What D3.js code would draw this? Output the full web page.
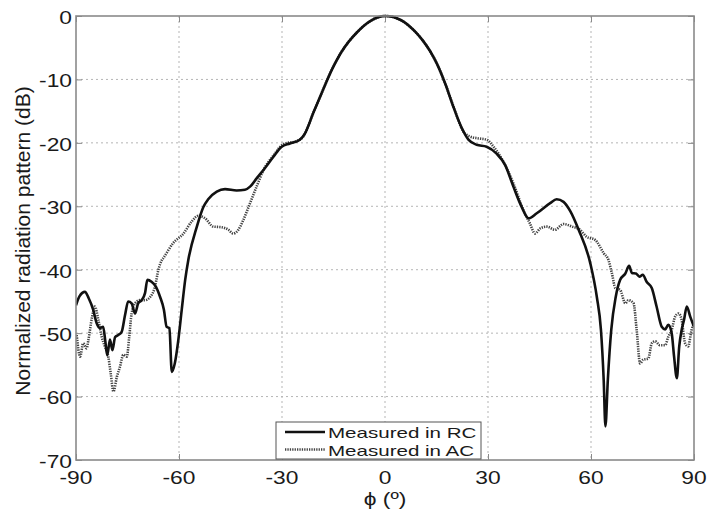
<!DOCTYPE html>
<html>
<head>
<meta charset="utf-8">
<script src="https://cdn.jsdelivr.net/npm/d3@7"></script>
<style>
  html, body { margin: 0; padding: 0; background: #fff; }
  svg { display: block; }
  text { font-family: "Liberation Sans", Arial, Helvetica, sans-serif; fill: #1a1a1a; }
</style>
</head>
<body>
<svg id="chart" width="710" height="513"></svg>
<script>
// ---------------- data ----------------
const xTicks = [-90, -60, -30, 0, 30, 60, 90];
const yTicks = [0, -10, -20, -30, -40, -50, -60, -70];
const xLabel = "\u03d5 (\u00ba)";
const yLabel = "Normalized radiation pattern (dB)";
const seriesNames = ["Measured in RC", "Measured in AC"];

// Measured in RC: [phi (deg), dB]
const measuredRC = [
  [-90,-45.6],[-89,-44.2],[-87.4,-43.5],[-86.3,-44.5],[-85,-46.3],[-84,-48.4],[-83,-49.2],[-82.1,-49],
  [-81.5,-51.1],[-80.9,-53.5],[-80.1,-51],[-79.4,-52.7],[-78.6,-50.6],[-77.7,-50.3],[-76.7,-49.8],
  [-75.7,-47.1],[-74.8,-45],[-73.8,-45.3],[-72.8,-46.9],[-71.9,-45.3],[-70.9,-44.8],[-69.9,-43.7],
  [-69.2,-41.6],[-68,-41.9],[-66.7,-42.7],[-65.5,-44.3],[-64.4,-46.3],[-63.6,-49],[-62.8,-49.2],
  [-62.1,-56.1],[-61.2,-54.7],[-60.2,-51.1],[-59.2,-46.3],[-58.2,-41.6],[-57.3,-38.5],[-54.8,-33.2],
  [-52.9,-30.1],[-51.5,-28.9],[-49,-27.7],[-46.6,-27.3],[-43.2,-27.5],[-40.8,-27.4],[-39.3,-26.9],
  [-37.4,-25.6],[-35,-24],[-32.5,-22.2],[-30.1,-20.6],[-27.7,-20.1],[-24.8,-19.5],[-23.3,-18.5],
  [-20.9,-15.3],[-18.1,-11.7],[-15.5,-8.5],[-12.6,-5.6],[-10.5,-4.0],[-8.2,-2.6],[-6.3,-1.6],
  [-4.3,-0.8],[-2,-0.2],[0,0],[2,-0.1],[3.6,-0.4],[5.4,-0.9],[7.3,-1.7],[9.2,-2.7],[11.2,-4.0],
  [13.2,-5.6],[15.1,-7.5],[17.5,-10.6],[19.9,-14.3],[22.4,-17.7],[24.3,-19.5],[26.7,-20.3],
  [29.6,-20.6],[32.5,-21.7],[35,-23.5],[37.4,-26.9],[39.8,-30.1],[41.8,-31.9],[44.2,-31.1],[48.1,-29.5],
  [50,-28.9],[52,-29.3],[54,-30.8],[56.4,-33.7],[59.8,-39],[61.7,-44.3],[62.9,-49.5],[63.7,-57.4],
  [64.2,-64.7],[64.9,-57.4],[65.9,-49.5],[67.2,-44.3],[68.5,-41.6],[70,-40.6],[71.1,-39.4],[71.9,-40.5],
  [73.1,-40.6],[74.1,-41.1],[75.1,-40.8],[76.2,-41.9],[77.7,-42.9],[79.1,-45.8],[80.6,-49],[81.6,-49.4],
  [82.5,-48.7],[83.5,-50],[84.2,-53.7],[85,-57.1],[85.7,-52.1],[86.4,-49.5],[87.1,-47.9],[87.9,-45.8],
  [88.9,-47.4],[90,-49]
];

// Measured in AC: [phi (deg), dB]
const measuredAC = [
  [-89.8,-50.3],[-88.8,-53.7],[-87.9,-51.6],[-86.9,-52.4],[-86.4,-51.1],[-85.4,-47.7],[-84.5,-45.8],
  [-83.5,-47.9],[-82.5,-50.6],[-81.6,-52.1],[-80.6,-53.7],[-79.9,-56.3],[-79.1,-59.2],[-78.1,-56.9],
  [-77.2,-55.3],[-76.2,-53.4],[-75.2,-53.7],[-74.5,-50.6],[-73.8,-46.9],[-72.8,-45.3],[-71.4,-44.8],
  [-69.9,-44.8],[-68.4,-44.3],[-67,-42.7],[-66,-40],[-65,-38.5],[-64.6,-38.2],[-61.7,-35.8],[-58.7,-34.3],
  [-56.3,-32.4],[-54.4,-31.5],[-52.4,-31.9],[-50,-33.2],[-47.6,-33.3],[-45.6,-33.7],[-44.2,-34.3],
  [-42.7,-33.7],[-41.3,-32.2],[-39.3,-29.5],[-37.4,-26.9],[-35.4,-24.3],[-32.5,-22],[-29.6,-20.2],
  [-25.7,-19.7],[-23.8,-19.0],[-20.9,-15.3],[-18.1,-11.7],[-15.5,-8.5],[-12.6,-5.6],[-10.5,-4.0],
  [-8.2,-2.6],[-6.3,-1.6],[-4.3,-0.8],[-2,-0.2],[0,0],[2,-0.1],[3.6,-0.4],[5.4,-0.9],[7.3,-1.7],
  [9.2,-2.7],[11.2,-4.0],[13.2,-5.6],[15.1,-7.5],[17.5,-10.6],[19.9,-14.2],[22.8,-18.2],
  [24.8,-19.0],[27.2,-19.3],[29.6,-19.5],[31.6,-20.6],[34.5,-23],[37.4,-26.4],[40.3,-30.6],[42.2,-32.7],
  [43.7,-34.3],[45.2,-33.5],[47.1,-33.2],[49.5,-33.7],[52,-32.8],[54.5,-33.2],[56.8,-33.7],[58.7,-34.8],
  [61.2,-35.3],[63.7,-37.4],[65.1,-38.5],[66.1,-40.6],[67.1,-42.9],[68.5,-43.2],[70,-45.3],[70.9,-44.8],
  [72.4,-45.3],[73.3,-49.5],[74.3,-54.8],[75.2,-54.2],[76.7,-54],[77.7,-51.6],[78.7,-51.3],[80.1,-51.9],
  [81.6,-51.9],[82.5,-50.6],[83.5,-49.5],[84.5,-47.4],[85.5,-46.9],[86.4,-47.9],[87.4,-51.6],[88.3,-52.1],
  [89.3,-49.5],[90,-48.5]
];

// ---------------- layout ----------------
const plot = { left: 76, top: 16, right: 694, bottom: 460 };
const svg = d3.select("#chart");
const x = d3.scaleLinear().domain([-90, 90]).range([plot.left, plot.right]);
const y = d3.scaleLinear().domain([-70, 0]).range([plot.bottom, plot.top]);
const SX = 1.2; // horizontal stretch of the reference's lettering

// grid
const grid = svg.append("g");
grid.selectAll("line.gx").data(xTicks.slice(1, -1)).join("line")
  .attr("x1", d => x(d)).attr("x2", d => x(d))
  .attr("y1", plot.top).attr("y2", plot.bottom)
  .attr("stroke", "#b5b5b5").attr("stroke-width", 1).attr("stroke-dasharray", "2,3");
grid.selectAll("line.gy").data(yTicks.slice(1, -1)).join("line")
  .attr("y1", d => y(d)).attr("y2", d => y(d))
  .attr("x1", plot.left).attr("x2", plot.right)
  .attr("stroke", "#b5b5b5").attr("stroke-width", 1).attr("stroke-dasharray", "2,3");

// axes via d3 (inward ticks, labels drawn separately for stretch)
const tickLen = 6;
const axB = svg.append("g").attr("transform", `translate(0,${plot.bottom})`)
  .call(d3.axisBottom(x).tickValues(xTicks).tickSizeInner(-tickLen).tickSizeOuter(0).tickFormat(""));
const axT = svg.append("g").attr("transform", `translate(0,${plot.top})`)
  .call(d3.axisTop(x).tickValues(xTicks).tickSizeInner(-tickLen).tickSizeOuter(0).tickFormat(""));
const axL = svg.append("g").attr("transform", `translate(${plot.left},0)`)
  .call(d3.axisLeft(y).tickValues(yTicks).tickSizeInner(-tickLen).tickSizeOuter(0).tickFormat(""));
const axR = svg.append("g").attr("transform", `translate(${plot.right},0)`)
  .call(d3.axisRight(y).tickValues(yTicks).tickSizeInner(-tickLen).tickSizeOuter(0).tickFormat(""));
[axB, axT, axL, axR].forEach(a => {
  a.select(".domain").remove();
  a.selectAll(".tick line").attr("stroke", "#8a8a8a").attr("stroke-width", 1);
});

// curves
const line = d3.line().x(d => x(d[0])).y(d => y(d[1])).curve(d3.curveMonotoneX);
const clip = svg.append("clipPath").attr("id", "clip").append("rect")
  .attr("x", plot.left).attr("y", plot.top - 2).attr("width", plot.right - plot.left).attr("height", plot.bottom - plot.top + 2);
svg.append("path").datum(measuredAC).attr("d", line)
  .attr("fill", "none").attr("stroke", "#444").attr("stroke-width", 2.6)
  .attr("stroke-dasharray", "1.3,1.1").attr("clip-path", "url(#clip)");
svg.append("path").datum(measuredRC).attr("d", line)
  .attr("fill", "none").attr("stroke", "#111").attr("stroke-width", 2.6)
  .attr("stroke-linejoin", "round").attr("clip-path", "url(#clip)");

// frame
svg.append("rect").attr("x", plot.left).attr("y", plot.top)
  .attr("width", plot.right - plot.left).attr("height", plot.bottom - plot.top)
  .attr("fill", "none").attr("stroke", "#8a8a8a").attr("stroke-width", 1.6);

// text helper (reference lettering is horizontally stretched)
function stretchedText(g, tx, ty, str, size, anchor, sx) {
  return g.append("text")
    .attr("transform", `translate(${tx},${ty}) scale(${sx || SX},1)`)
    .attr("text-anchor", anchor).attr("dominant-baseline", "central")
    .style("font-size", size + "px").text(str);
}
const labels = svg.append("g");
yTicks.forEach(v => stretchedText(labels, 72, y(v) + 1, String(v), 19, "end"));
xTicks.forEach(v => stretchedText(labels, x(v), 477, String(v), 19, "middle"));

// axis titles
stretchedText(labels, x(0), 498, xLabel, 19, "middle");
labels.append("text")
  .attr("transform", `translate(22,${(plot.top + plot.bottom) / 2 + 3}) rotate(-90)`)
  .attr("text-anchor", "middle").attr("dominant-baseline", "central")
  .style("font-size", "21px").text(yLabel);

// legend
const lg = svg.append("g");
const lgBox = { x: 276, y: 422, w: 205, h: 37 };
lg.append("rect").attr("x", lgBox.x).attr("y", lgBox.y).attr("width", lgBox.w).attr("height", lgBox.h)
  .attr("fill", "#fff").attr("stroke", "#555").attr("stroke-width", 1);
const rowsY = [lgBox.y + 10, lgBox.y + 27.5];
const styles = [
  { stroke: "#111", dash: null },
  { stroke: "#444", dash: "1.3,1.1" }
];
seriesNames.forEach((name, i) => {
  lg.append("line").attr("x1", lgBox.x + 9).attr("x2", lgBox.x + 49)
    .attr("y1", rowsY[i]).attr("y2", rowsY[i])
    .attr("stroke", styles[i].stroke).attr("stroke-width", 2.6)
    .attr("stroke-dasharray", styles[i].dash);
  stretchedText(lg, lgBox.x + 52, rowsY[i] + 1, name, 15, "start", 1.37);
});
</script>
</body>
</html>
